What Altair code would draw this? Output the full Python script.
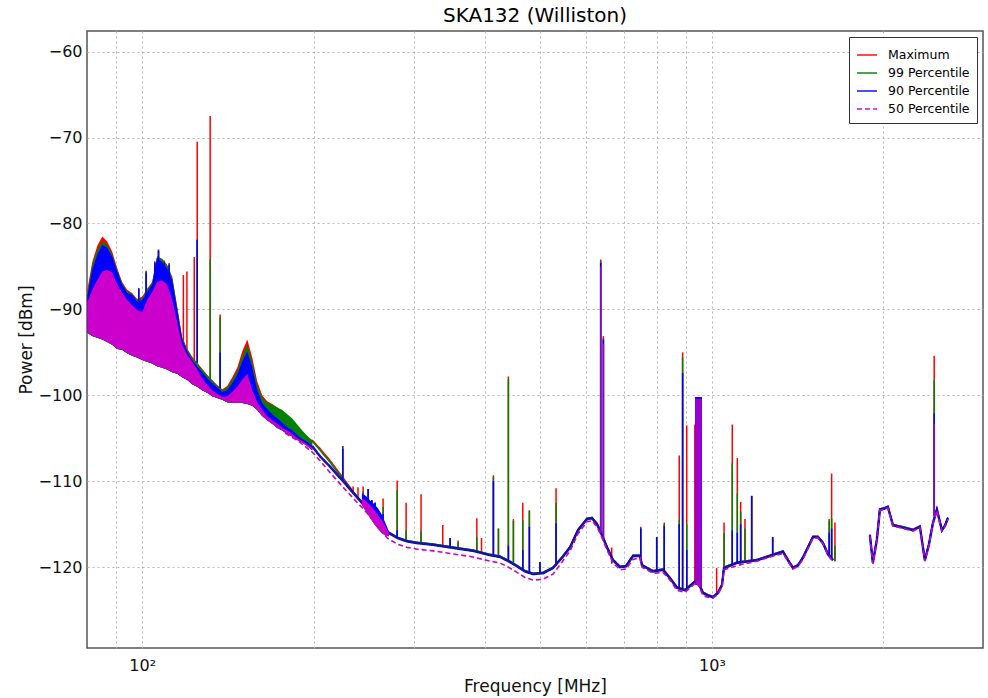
import altair as alt
import pandas as pd

SERIES = ["Maximum", "99 Percentile", "90 Percentile", "50 Percentile"]
COLORS = ["#ff0000", "#008000", "#0000ff", "#cc00cc"]
DASHES = [[1, 0], [1, 0], [1, 0], [5, 3]]

# ---------------- low-frequency band (dense oscillating region) ----------------
band_freq = [80.1, 81.7, 83.4, 85.1, 86.8, 88.6, 90.4, 92.2, 94.1, 96.0, 98.0, 100.0,
             102.0, 104.1, 106.2, 108.4, 110.6, 112.9, 115.2, 117.5, 120.0, 122.4, 124.9,
             127.4, 130.0, 132.7, 135.4, 138.2, 141.0, 143.9, 146.8, 149.8, 152.9, 156.0,
             159.2, 162.4, 165.7, 169.1, 172.6, 176.1, 179.7, 183.4, 187.1, 190.9, 194.8, 198.8]
band_max = [-87.7, -84.5, -82.6, -81.5, -82.1, -83.3, -85.2, -86.8, -87.7, -88.1,
            -88.8, -88.5, -87.6, -86.8, -83.8, -84.1, -84.8, -86.2, -89.7, -93.2,
            -94.6, -95.5, -96.2, -96.9, -97.6, -98.2, -98.8, -99.3, -98.9, -97.9,
            -96.8, -94.9, -93.5, -95.6, -98.4, -100.0, -100.7, -101.0, -101.4, -101.8,
            -102.4, -103.0, -103.7, -104.3, -104.8, -105.2]
band_p99 = [-88.2, -84.9, -83.1, -82.1, -82.5, -83.6, -85.4, -86.9, -87.9, -88.2,
            -88.9, -88.7, -87.7, -86.9, -83.8, -84.2, -84.9, -86.3, -89.8, -93.3,
            -94.7, -95.6, -96.3, -97.0, -97.7, -98.3, -98.9, -99.4, -99.1, -98.2,
            -97.2, -95.5, -94.1, -96.1, -98.8, -100.3, -100.9, -101.1, -101.4, -101.7,
            -102.2, -102.7, -103.4, -104.1, -104.7, -105.3]
band_p90 = [-88.5, -85.4, -83.6, -82.5, -82.8, -83.9, -85.6, -87.1, -88.1, -88.3,
            -89.1, -88.9, -88.0, -87.1, -84.0, -84.5, -85.2, -86.6, -90.1, -93.5,
            -94.9, -95.9, -96.6, -97.3, -98.0, -98.6, -99.1, -99.6, -99.4, -98.6,
            -97.6, -96.1, -94.9, -96.8, -99.4, -100.9, -101.6, -102.2, -102.7, -103.2,
            -103.7, -104.1, -104.6, -105.1, -105.4, -105.9]
band_p50_hi = [-89.2, -87.7, -86.6, -85.6, -85.4, -85.7, -87.1, -88.1, -88.9, -89.5,
               -90.1, -90.3, -88.9, -88.0, -86.8, -86.6, -87.1, -88.9, -91.5, -94.1,
               -95.3, -96.1, -97.0, -98.0, -98.8, -99.4, -99.8, -100.2, -100.1, -99.6,
               -99.0, -98.2, -97.5, -99.4, -100.8, -101.7, -102.4, -102.9, -103.3, -103.8,
               -104.1, -104.5, -105.0, -105.3, -105.7, -106.1]
band_p50_lo = [-92.7, -93.1, -93.3, -93.5, -93.8, -94.1, -94.6, -94.7, -95.1, -95.4,
               -95.6, -95.9, -96.1, -96.3, -96.6, -96.8, -97.0, -97.3, -97.5, -97.9,
               -98.2, -98.7, -99.0, -99.4, -99.7, -100.1, -100.3, -100.5, -100.8, -100.9,
               -100.9, -100.9, -101.0, -101.2, -101.7, -102.4, -102.9, -103.3, -103.8, -104.1,
               -104.5, -104.8, -105.2, -105.5, -105.9, -106.4]

# small noisy cluster around 245-270 MHz
blob_freq = [243, 247, 251, 255, 259, 263, 267, 271]
blob_lo = [-112.8, -113.5, -114.2, -114.9, -115.5, -116.0, -116.3, -116.4]
blob_p90 = [-111.4, -111.7, -112.2, -112.6, -113.1, -113.8, -114.8, -115.8]
blob_p50 = [-112.0, -112.3, -112.8, -113.3, -113.9, -114.5, -115.2, -116.0]

# ---------------- smooth traces ----------------
freq_a = [198.7, 205.2, 213.7, 225.2, 236.4, 248.2, 258.4, 269.1, 280.2, 291.7, 303.8,
          324.0, 347.0, 380.7, 407.8, 424.6, 442.1, 454.8, 469.8, 485.2, 505.2, 526.0,
          545.6, 563.5, 582.0, 603.5, 615.8, 628.4, 641.2, 654.3, 670.4, 689.6, 706.5,
          726.8, 747.6, 753.7, 787.9, 820.4, 844.0, 868.2, 896.7, 926.1, 941.2, 964.3,
          983.9, 1004.0, 1024.5, 1041.2, 1049.7, 1106.4, 1199.4, 1264.1, 1332.3, 1359.4,
          1387.2, 1415.5, 1444.4, 1504.0, 1534.7, 1566.0, 1598.0, 1630.6]
max_a = [-105.2, -106.2, -107.6, -109.6, -111.5, -113.1, -114.6, -115.8, -116.5, -116.9,
         -117.1, -117.3, -117.6, -118.0, -118.5, -118.7, -119.3, -119.8, -120.4, -120.7,
         -120.6, -120.0, -118.8, -117.6, -115.6, -114.3, -114.2, -114.9, -116.2, -117.6,
         -119.1, -119.9, -119.8, -118.6, -118.6, -119.7, -120.4, -120.2, -121.2, -122.3,
         -122.6, -121.8, -121.4, -122.9, -123.2, -123.4, -122.9, -122.0, -120.0, -119.4,
         -119.1, -118.6, -118.1, -119.1, -120.0, -119.7, -118.8, -116.4, -116.4, -117.1,
         -118.4, -119.1]
p99_a = [-105.3, -106.4, -107.8, -109.8, -111.5, -113.1, -114.6, -115.8, -116.5, -116.9,
         -117.1, -117.3, -117.6, -118.0, -118.5, -118.7, -119.3, -119.8, -120.4, -120.7,
         -120.6, -120.0, -118.8, -117.6, -115.6, -114.3, -114.2, -114.9, -116.2, -117.6,
         -119.1, -119.9, -119.8, -118.6, -118.6, -119.7, -120.4, -120.2, -121.2, -122.3,
         -122.6, -121.8, -121.4, -122.9, -123.2, -123.4, -122.9, -122.0, -120.0, -119.4,
         -119.1, -118.6, -118.1, -119.1, -120.0, -119.7, -118.8, -116.4, -116.4, -117.1,
         -118.4, -119.1]
p90_a = [-105.9, -107.1, -108.3, -110.0, -111.6, -113.2, -114.7, -115.9, -116.6, -117.0,
         -117.2, -117.4, -117.7, -118.1, -118.6, -118.8, -119.4, -119.9, -120.5, -120.8,
         -120.7, -120.1, -118.9, -117.7, -115.7, -114.4, -114.3, -115.0, -116.3, -117.7,
         -119.2, -120.0, -119.9, -118.7, -118.7, -119.8, -120.5, -120.3, -121.3, -122.4,
         -122.7, -121.9, -121.5, -123.0, -123.3, -123.5, -123.0, -122.1, -120.1, -119.5,
         -119.2, -118.7, -118.2, -119.2, -120.1, -119.8, -118.9, -116.5, -116.5, -117.2,
         -118.5, -119.2]
p50_freq_a = [178.2, 187.8] + freq_a
p50_a = [-104.4, -105.3,
         -106.6, -107.6, -109.0, -110.7, -112.2, -113.7, -115.2, -116.6, -117.3, -117.7,
         -117.9, -118.1, -118.4, -118.8, -119.3, -119.5, -120.1, -120.6, -121.2, -121.5,
         -121.4, -120.8, -119.4, -118.1, -116.1, -114.7, -114.6, -115.3, -116.6, -118.0,
         -119.5, -120.3, -120.2, -119.1, -118.9, -120.0, -120.7, -120.6, -121.5, -122.7,
         -122.9, -122.1, -121.7, -123.3, -123.5, -123.6, -123.1, -122.3, -120.3, -119.8,
         -119.3, -118.8, -118.4, -119.3, -120.2, -119.9, -119.1, -116.6, -116.6, -117.3,
         -118.6, -119.3]

freq_b = [1893.0, 1916.1, 1947.3, 1971.0, 2003.1, 2035.8, 2077.3, 2163.0, 2252.2,
          2316.8, 2364.0, 2402.6, 2441.8, 2481.6, 2532.2, 2563.1, 2594.4]
max_b = [-116.2, -119.4, -116.7, -113.2, -113.1, -112.9, -115.0, -115.3, -115.6,
         -115.2, -119.1, -117.3, -114.8, -113.2, -115.6, -115.1, -114.2]
p99_b = [-116.2, -119.4, -116.7, -113.2, -113.1, -112.9, -115.0, -115.3, -115.6,
         -115.2, -119.1, -117.3, -114.8, -113.2, -115.6, -115.1, -114.2]
p90_b = [-116.3, -119.5, -116.8, -113.3, -113.2, -113.0, -115.1, -115.4, -115.7,
         -115.3, -119.2, -117.4, -114.9, -113.3, -115.7, -115.2, -114.3]
p50_b = [-116.4, -119.6, -116.9, -113.4, -113.3, -113.1, -115.2, -115.5, -115.8,
         -115.4, -119.3, -117.5, -115.0, -113.4, -115.8, -115.3, -114.4]

# ---------------- narrow-band spikes ----------------
N = None
spike_freq = [98.6, 101.6, 105.2, 106.8, 109.3, 111.5,
              118.1, 119.8, 123.4, 124.9, 131.6, 137.0,
              224.9, 234.5, 239.2, 244.2, 249.2, 252.9, 256.3, 264.7, 280.2, 290.5, 308.6,
              336.9, 347.1, 358.4, 386.6, 394.0, 413.4, 421.9, 439.2, 448.2, 465.5, 478.1,
              499.0, 532.5, 637.8, 644.8, 666.8,
              749.9, 799.8, 824.6, 876.1, 888.1, 903.0, 933.0,
              937, 941, 945, 949, 953, 957,
              1019, 1050, 1085.5, 1107.8, 1122.9, 1142.7, 1174, 1278, 1606, 1621.8, 1643.7,
              2454.7]
spike_base = [-89.0, -88.4, -86.5, -84.3, -85.3, -86.0,
              -94.7, -95.0, -95.9, -96.2, -98.2, -99.2,
              -110.0, -111.4, -112.0, -112.6, -113.3, -113.7, -114.2, -114.5, -116.6, -116.9, -117.3,
              -117.6, -117.7, -117.8, -118.2, -118.4, -118.7, -118.9, -119.2, -119.5, -120.4, -120.7,
              -120.8, -119.8, -116.0, -116.7, -119.6,
              -118.8, -120.5, -120.5, -122.5, -122.6, -122.5, -121.9,
              -122.0, -122.0, -122.1, -122.2, -122.3, -122.4,
              -123.0, -120.1, -119.7, -119.5, -119.4, -119.4, -119.3, -118.7, -118.7, -118.9, -119.3,
              -114.0]
spike_max = [-87.5, -85.5, -84.4, -83.0, -84.3, -84.6,
             -86.0, -85.6, -83.9, -70.5, -67.5, -90.6,
             -105.9, -110.6, -110.7, -110.6, -110.9, -112.2, -112.5, -112.0, -109.9, -112.5, -111.5,
             -115.1, -116.6, -116.9, -114.3, -116.6, -109.3, -115.5, -97.8, -114.4, -112.5, -113.4,
             -119.4, -110.8, -84.2, -93.1, -117.7,
             -115.3, -116.5, -114.8, -107.0, -95.0, -103.5, -103.4,
             -100.2, -100.2, -100.2, -100.2, -100.2, -100.2,
             -120.1, -114.8, -103.4, -107.3, -112.4, -114.4, -111.7, -116.5, -114.4, -109.1, -114.8,
             -95.4]
spike_p99 = [-87.6, -85.6, -84.5, -83.1, -84.4, -84.7,
             N, N, N, -81.9, -84.2, -90.9,
             -105.9, -111.0, N, -111.2, -110.9, -112.2, -112.5, -113.0, -111.0, -115.7, -115.8,
             N, -116.6, -117.1, -116.5, N, -109.5, -115.5, -98.1, -114.6, -114.5, -113.4,
             -119.4, -112.5, -84.4, -93.3, N,
             -115.5, -116.5, -115.0, -114.5, -95.6, -115.0, N,
             -100.2, -100.2, -100.2, -100.2, -100.2, -100.2,
             N, -116.0, -107.9, -111.4, -113.5, -115.5, -111.7, -116.5, -114.6, -114.3, -117.5,
             -98.2]
spike_p90 = [-87.6, -85.7, -84.6, -83.2, -84.5, -84.8,
             N, N, N, -81.9, N, -95.0,
             -106.2, N, N, N, -110.9, -112.2, -112.5, -113.8, -115.7, N, N,
             N, -116.6, N, N, N, -110.0, N, -117.5, N, -118.0, -115.3,
             -119.4, -114.9, -84.6, -93.5, N,
             -115.5, -116.5, -115.2, -115.0, -97.4, -118.0, N,
             -100.2, -100.2, -100.2, -100.2, -100.2, -100.2,
             N, N, -115.7, -116.0, -115.0, N, -111.7, -116.5, -116.0, -115.5, N,
             -102.1]
spike_p50 = [N, N, N, N, N, N,
             N, N, N, N, N, N,
             N, N, N, N, N, N, N, N, N, N, N,
             N, N, N, N, N, N, N, N, N, N, N,
             N, N, -85.0, -94.0, N,
             N, N, N, N, N, N, N,
             -100.4, -100.4, -100.4, -100.4, -100.4, -100.4,
             N, N, N, N, N, N, N, N, N, N, N,
             -103.3]

# x-axis gridline positions and y ticks
x_grid = [90, 100, 200, 300, 400, 500, 600, 700, 800, 900, 1000, 2000]
y_ticks = [-60, -70, -80, -90, -100, -110, -120]

# ---------------- data frames ----------------
band_df = pd.DataFrame({"freq": band_freq, "lo": band_p50_lo, "max": band_max,
                        "p99": band_p99, "p90": band_p90, "p50": band_p50_hi})
blob_df = pd.DataFrame({"freq": blob_freq, "lo": blob_lo, "p90": blob_p90, "p50": blob_p50})
spike_df = pd.DataFrame({"freq": spike_freq, "base": spike_base, "max": spike_max,
                         "p99": spike_p99, "p90": spike_p90, "p50": spike_p50})
rows = []
for name, fr, vals, seg in [
    ("Maximum", freq_a, max_a, "a"), ("Maximum", freq_b, max_b, "b"),
    ("99 Percentile", freq_a, p99_a, "a"), ("99 Percentile", freq_b, p99_b, "b"),
    ("90 Percentile", freq_a, p90_a, "a"), ("90 Percentile", freq_b, p90_b, "b"),
    ("50 Percentile", p50_freq_a, p50_a, "a"), ("50 Percentile", freq_b, p50_b, "b"),
]:
    for f, v in zip(fr, vals):
        rows.append({"freq": f, "value": v, "series": name, "seg": seg})
lines_df = pd.DataFrame(rows)

FONT = "DejaVu Sans"
x_scale = alt.Scale(type="log", domain=[80, 2990], nice=False)
y_scale = alt.Scale(domain=[-129.4, -57.6], nice=False, zero=False)
x_axis = alt.Axis(values=x_grid, title="Frequency [MHz]", grid=True, ticks=False, domain=False,
                  labelExpr="datum.value == 100 ? '10²' : (datum.value == 1000 ? '10³' : '')",
                  labelOverlap=False, labelFlush=False, labelFontSize=16, labelPadding=9,
                  titleFontSize=17, titleFontWeight="normal", titlePadding=5)
y_axis = alt.Axis(values=y_ticks, title="Power [dBm]", grid=True, ticks=False, domain=False,
                  labelFontSize=16, labelPadding=5, titleFontSize=17,
                  titleFontWeight="normal", titlePadding=3)

X = alt.X("freq:Q", scale=x_scale, axis=x_axis)


def yq(field):
    return alt.Y(field + ":Q", scale=y_scale, axis=y_axis)


legend = alt.Legend(title=None, orient="none", legendX=762, legendY=6, strokeColor="#333333",
                    fillColor="white", padding=7, symbolType="stroke", symbolSize=400,
                    symbolStrokeWidth=2, symbolOpacity=0.7, labelFontSize=12.5, labelFont=FONT,
                    rowPadding=0, labelOffset=10)
color_enc = alt.Color("series:N", scale=alt.Scale(domain=SERIES, range=COLORS), legend=legend)
dash_enc = alt.StrokeDash("series:N", scale=alt.Scale(domain=SERIES, range=DASHES), legend=legend)

keys = ["max", "p99", "p90", "p50"]
widths = [1.5, 1.5, 2.4, 1.6]
layers = []
for name, key, col, w in zip(SERIES, keys, COLORS, widths):
    layers.append(alt.Chart(band_df).mark_area(color=col, opacity=1).encode(
        x=X, y=yq("lo"), y2=alt.Y2(key + ":Q")))
    if key in ("p90", "p50"):
        layers.append(alt.Chart(blob_df).mark_area(color=col, opacity=1).encode(
            x=X, y=yq("lo"), y2=alt.Y2(key + ":Q")))
    layers.append(alt.Chart(spike_df).transform_filter(f"isValid(datum['{key}'])").mark_rule(
        color=col, strokeWidth=1.5, opacity=0.7 if key == "p50" else 1).encode(
        x=X, y=yq("base"), y2=alt.Y2(key + ":Q")))
    layers.append(alt.Chart(lines_df).transform_filter(alt.datum.series == name).mark_line(
        strokeWidth=w).encode(x=X, y=yq("value"), color=color_enc, strokeDash=dash_enc,
                              detail="seg:N"))
    if key == "p90":
        # dark core where the overlapping traces blend together
        layers.append(alt.Chart(lines_df).transform_filter(alt.datum.series == name).mark_line(
            strokeWidth=1.3, color="#1c1c78").encode(x=X, y=yq("value"), detail="seg:N"))

chart = alt.layer(*layers).properties(
    width=896, height=617,
    title=alt.TitleParams("SKA132 (Williston)", fontSize=20, font=FONT, fontWeight="normal",
                          anchor="middle", offset=5),
    autosize=alt.AutoSizeParams(type="none"),
    padding={"left": 87, "top": 31, "right": 5, "bottom": 50},
).configure(font=FONT).configure_view(stroke="#555555", strokeWidth=1.5).configure_axis(
    gridColor="#b5b5b5", gridDash=[2, 3], gridWidth=1, labelColor="#111111",
    titleColor="#111111", labelFont=FONT, titleFont=FONT)

chart.save("out.html", embed_options={"renderer": "svg", "actions": False})
